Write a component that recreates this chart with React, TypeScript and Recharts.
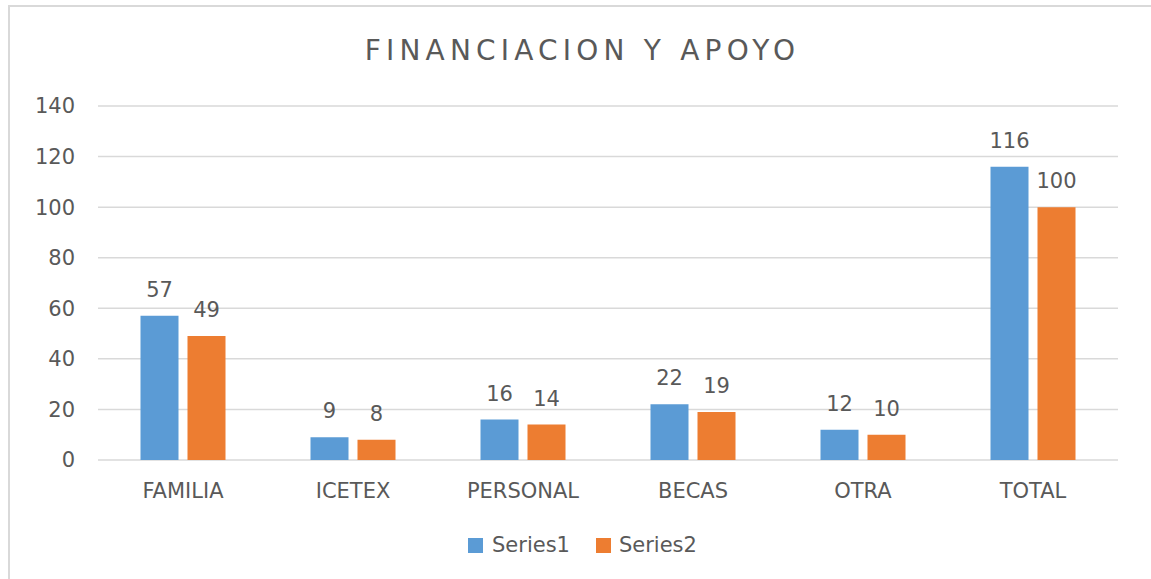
import React from "react";
import { BarChart, Bar, XAxis, YAxis, CartesianGrid, Legend, LabelList } from "recharts";

const categories = ["FAMILIA", "ICETEX", "PERSONAL", "BECAS", "OTRA", "TOTAL"];
const series1 = [57, 9, 16, 22, 12, 116];
const series2 = [49, 8, 14, 19, 10, 100];
const yTicks = [0, 20, 40, 60, 80, 100, 120, 140];
const seriesNames = ["Series1", "Series2"];
const title = "FINANCIACION Y APOYO";

const data = categories.map((c, i) => ({ name: c, s1: series1[i], s2: series2[i] }));

const FONT = "'DejaVu Sans', sans-serif";
const TEXT = "#595959";
const BLUE = "#5B9BD5";
const ORANGE = "#ED7D31";

const LegendContent = () => (
  <div style={{ display: "flex", alignItems: "center", fontFamily: FONT, fontSize: 21, lineHeight: "21px", color: TEXT }}>
    <span style={{ width: 15, height: 15, background: BLUE, display: "inline-block", marginRight: 9 }} />
    <span style={{ marginRight: 26 }}>{seriesNames[0]}</span>
    <span style={{ width: 15, height: 15, background: ORANGE, display: "inline-block", marginRight: 8 }} />
    <span>{seriesNames[1]}</span>
  </div>
);

export default function App() {
  return (
    <div style={{ position: "absolute", left: 0, top: 0, width: 1151, height: 579, background: "#fff", overflow: "hidden" }}>
      <div style={{ position: "absolute", left: 8, top: 5, width: 1200, height: 700, border: "2px solid #d9d9d9", boxSizing: "border-box" }} />
      <div style={{ position: "absolute", left: 0, top: 37, width: 1165, textAlign: "center", fontFamily: FONT, fontSize: 28, lineHeight: "28px", letterSpacing: 5.2, color: TEXT }}>
        {title}
      </div>
      <div style={{ position: "absolute", left: 0, top: 0 }}>
        <BarChart width={1151} height={579} data={data} margin={{ top: 106, right: 33, left: 0, bottom: 79 }} barCategoryGap="25%" barGap={9}>
          <CartesianGrid vertical={false} stroke="#d9d9d9" strokeWidth={1.5} />
          <XAxis dataKey="name" axisLine={false} tickLine={false} height={40} tickMargin={17} tick={{ fill: TEXT, fontSize: 21, fontFamily: FONT }} interval={0} />
          <YAxis domain={[0, 140]} ticks={yTicks} width={98} axisLine={false} tickLine={false} tickMargin={17} tick={{ fill: TEXT, fontSize: 21, fontFamily: FONT }} interval={0} />
          <Legend layout="horizontal" verticalAlign="middle" align="center" content={<LegendContent />} wrapperStyle={{ top: 535, left: 468, width: 320, margin: 0 }} />
          <Bar dataKey="s1" name={seriesNames[0]} fill={BLUE} isAnimationActive={false}>
            <LabelList dataKey="s1" position="top" offset={19} fill={TEXT} fontSize={21} fontFamily={FONT} />
          </Bar>
          <Bar dataKey="s2" name={seriesNames[1]} fill={ORANGE} isAnimationActive={false}>
            <LabelList dataKey="s2" position="top" offset={19} fill={TEXT} fontSize={21} fontFamily={FONT} />
          </Bar>
        </BarChart>
      </div>
    </div>
  );
}
